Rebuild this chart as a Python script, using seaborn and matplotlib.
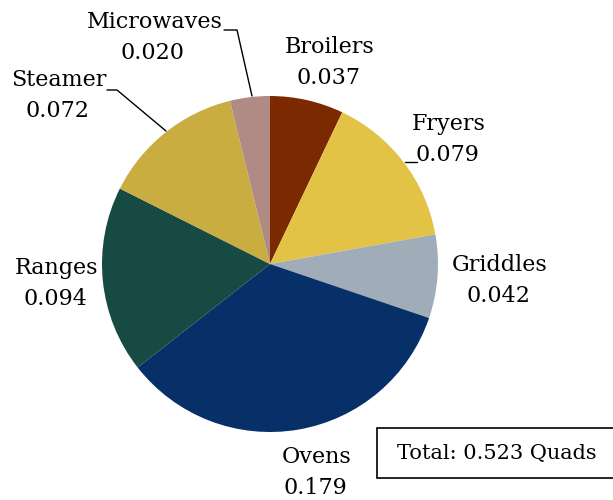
import matplotlib
matplotlib.use("Agg")
import matplotlib.pyplot as plt
from matplotlib.patches import Rectangle
import seaborn as sns

sns.set_theme(style="white")
plt.rcParams['font.family'] = ['DejaVu Serif']
plt.rcParams['text.color'] = 'black'

# Data
categories = ["Broilers", "Fryers", "Griddles", "Ovens", "Ranges", "Steamer", "Microwaves"]
values = [0.037, 0.079, 0.042, 0.179, 0.094, 0.072, 0.020]
colors = ["#7B2900", "#E2C346", "#A0ADB9", "#073068", "#164A42", "#C9AD40", "#B08A84"]
total_label = "Total: 0.523 Quads"

# label anchor positions in pixel space (x, y from top)
label_pos = {
    "Broilers": (330, 47),
    "Fryers": (449, 124),
    "Griddles": (500, 265),
    "Ovens": (317, 457),
    "Ranges": (57, 268),
    "Steamer": (59, 80),
    "Microwaves": (155, 22),
}

W, H = 613, 500
fig = plt.figure(figsize=(W / 100, H / 100), dpi=100)
ax = fig.add_axes([0, 0, 1, 1])

cx, cy, r = 270, H - 264, 168
ax.pie(values, colors=colors, startangle=90, counterclock=False,
       center=(cx, cy), radius=r, frame=True,
       wedgeprops=dict(linewidth=0))
ax.set_xlim(0, W)
ax.set_ylim(0, H)
ax.set_aspect("equal")
ax.axis("off")

fs = 16
for cat, val in zip(categories, values):
    x, y = label_pos[cat]
    ax.text(x, H - y, cat, ha="center", va="center", fontsize=fs, color="black")
    ax.text(x - 2, H - y - 31, f"{val:.3f}", ha="center", va="center", fontsize=fs, color="black")

# leader lines
ax.plot([224, 237, 252], [H - 30, H - 30, H - 96], color="black", lw=1)
ax.plot([107, 117, 166], [H - 90, H - 90, H - 131], color="black", lw=1)
ax.plot([405, 417], [H - 162, H - 162], color="black", lw=1)

# total box
ax.add_patch(Rectangle((377, H - 478), 245, 50, facecolor="white",
                       edgecolor="black", linewidth=1.2, clip_on=False))
ax.text(497, H - 453, total_label, ha="center", va="center", fontsize=15, color="black")

fig.savefig("out.png", dpi=100)
